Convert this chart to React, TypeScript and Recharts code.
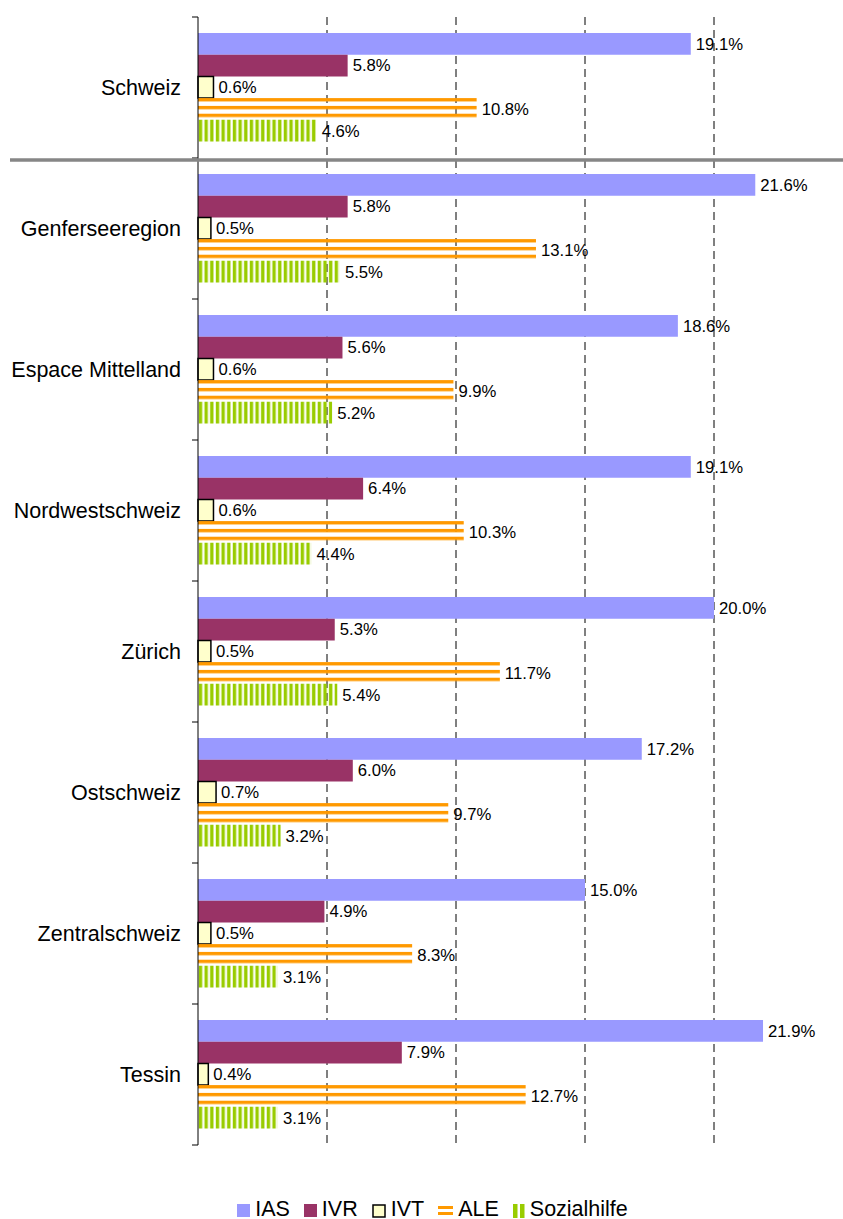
import { BarChart, Bar, XAxis, YAxis, CartesianGrid, Legend, LabelList } from "recharts";

const FONT = "'Liberation Sans', Arial, sans-serif";

const regions = ["Schweiz", "Genferseeregion", "Espace Mittelland", "Nordwestschweiz", "Zürich", "Ostschweiz", "Zentralschweiz", "Tessin"];
const ias = [19.1, 21.6, 18.6, 19.1, 20.0, 17.2, 15.0, 21.9];
const ivr = [5.8, 5.8, 5.6, 6.4, 5.3, 6.0, 4.9, 7.9];
const ivt = [0.6, 0.5, 0.6, 0.6, 0.5, 0.7, 0.5, 0.4];
const ale = [10.8, 13.1, 9.9, 10.3, 11.7, 9.7, 8.3, 12.7];
const sozialhilfe = [4.6, 5.5, 5.2, 4.4, 5.4, 3.2, 3.1, 3.1];
const xTicks = [0, 5, 10, 15, 20];
const gridValues = [5, 10, 15, 20];

const data = regions.map((name, i) => ({
  name,
  IAS: ias[i],
  IVR: ivr[i],
  IVT: ivt[i],
  ALE: ale[i],
  Sozialhilfe: sozialhilfe[i],
}));

const pct = (v: any) => Number(v).toFixed(1) + "%";

// category label plus boundary ticks (Excel puts ticks between categories)
function RegionTick(props: any) {
  const { x, y, payload, index } = props;
  const half = payload?.offset ?? 70.5;
  const axisX = x + 17;
  return (
    <g>
      <text x={x} y={y} dy={7} textAnchor="end" fontSize={21.5} fontFamily={FONT} fill="#000">
        {payload.value}
      </text>
      {index === 0 && <line x1={axisX - 6} x2={axisX} y1={y - half} y2={y - half} stroke="#000" />}
      <line x1={axisX - 6} x2={axisX} y1={y + half} y2={y + half} stroke="#000" />
      {index === 0 && (
        <line x1={10} x2={843} y1={y + half + 2} y2={y + half + 2} stroke="#868686" strokeWidth={3.5} />
      )}
    </g>
  );
}

function LegendIcon({ k }: { k: string }) {
  if (k === "IAS") return <svg width={13} height={13}><rect x={0} y={0} width={13} height={13} fill="#9999ff" /></svg>;
  if (k === "IVR") return <svg width={13} height={13}><rect x={0} y={0} width={13} height={13} fill="#993366" /></svg>;
  if (k === "IVT")
    return <svg width={14} height={14}><rect x={1} y={1} width={12} height={12} fill="#ffffcc" stroke="#000" strokeWidth={1.5} /></svg>;
  if (k === "ALE")
    return (
      <svg width={15} height={13}>
        <rect x={0} y={2} width={15} height={3} fill="#ff9900" />
        <rect x={0} y={8} width={15} height={3} fill="#ff9900" />
      </svg>
    );
  return (
    <svg width={12} height={14}>
      <rect x={0} y={0} width={4.5} height={14} fill="#99cc00" />
      <rect x={7} y={0} width={4.5} height={14} fill="#99cc00" />
    </svg>
  );
}

function renderLegend() {
  const keys = ["IAS", "IVR", "IVT", "ALE", "Sozialhilfe"];
  return (
    <div style={{ display: "flex", justifyContent: "center", alignItems: "center", paddingLeft: 36, height: 24 }}>
      {keys.map((k) => (
        <div key={k} style={{ display: "flex", alignItems: "center", marginRight: 14 }}>
          <div style={{ display: "flex", marginRight: 5, marginTop: 3 }}>
            <LegendIcon k={k} />
          </div>
          <span style={{ fontSize: 21.5, fontFamily: FONT, color: "#000", lineHeight: "24px" }}>{k}</span>
        </div>
      ))}
    </div>
  );
}

const labelStyle = { fontSize: 16.7, fontFamily: FONT, fill: "#000" };

export default function App() {
  return (
    <div style={{ position: "absolute", left: 0, top: 0, width: 843, height: 1219, background: "#fff", fontFamily: FONT }}>
      <BarChart
        width={843}
        height={1219}
        data={data}
        layout="vertical"
        margin={{ top: 17, right: 0, left: 0, bottom: 50 }}
        barGap={0}
        barSize={21.7}
      >
        <defs>
          <pattern id="aleStripes" patternUnits="objectBoundingBox" patternContentUnits="objectBoundingBox" width="1" height="0.36">
            <rect x="0" y="0" width="1" height="0.155" fill="#ff9900" />
          </pattern>
          <pattern id="sozStripes" patternUnits="userSpaceOnUse" x="198" y="0" width="5.66" height="10">
            <rect x="0.8" y="0" width="3.4" height="10" fill="#99cc00" />
          </pattern>
        </defs>
        <CartesianGrid horizontal={false} verticalValues={gridValues} stroke="#000" strokeDasharray="8 5" />
        <XAxis
          type="number"
          orientation="top"
          domain={[0, 25]}
          ticks={xTicks}
          height={0}
          tickSize={4}
          tickFormatter={() => ""}
          axisLine={{ stroke: "#000" }}
          tickLine={{ stroke: "#000" }}
        />
        <YAxis
          type="category"
          dataKey="name"
          width={198}
          tickSize={0}
          tickMargin={17}
          tickLine={false}
          axisLine={{ stroke: "#000" }}
          tick={<RegionTick />}
          interval={0}
        />
        <Legend content={renderLegend} wrapperStyle={{ top: 1197, left: 0, width: 843, height: 24 }} />
        <Bar dataKey="IAS" fill="#9999ff" isAnimationActive={false}>
          <LabelList dataKey="IAS" position="right" offset={5} formatter={pct} style={labelStyle} />
        </Bar>
        <Bar dataKey="IVR" fill="#993366" isAnimationActive={false}>
          <LabelList dataKey="IVR" position="right" offset={5} formatter={pct} style={labelStyle} />
        </Bar>
        <Bar dataKey="IVT" fill="#ffffcc" stroke="#000" strokeWidth={1.5} isAnimationActive={false}>
          <LabelList dataKey="IVT" position="right" offset={5} formatter={pct} style={labelStyle} />
        </Bar>
        <Bar dataKey="ALE" fill="url(#aleStripes)" isAnimationActive={false}>
          <LabelList dataKey="ALE" position="right" offset={5} formatter={pct} style={labelStyle} />
        </Bar>
        <Bar dataKey="Sozialhilfe" fill="url(#sozStripes)" isAnimationActive={false}>
          <LabelList dataKey="Sozialhilfe" position="right" offset={5} formatter={pct} style={labelStyle} />
        </Bar>
      </BarChart>
    </div>
  );
}
